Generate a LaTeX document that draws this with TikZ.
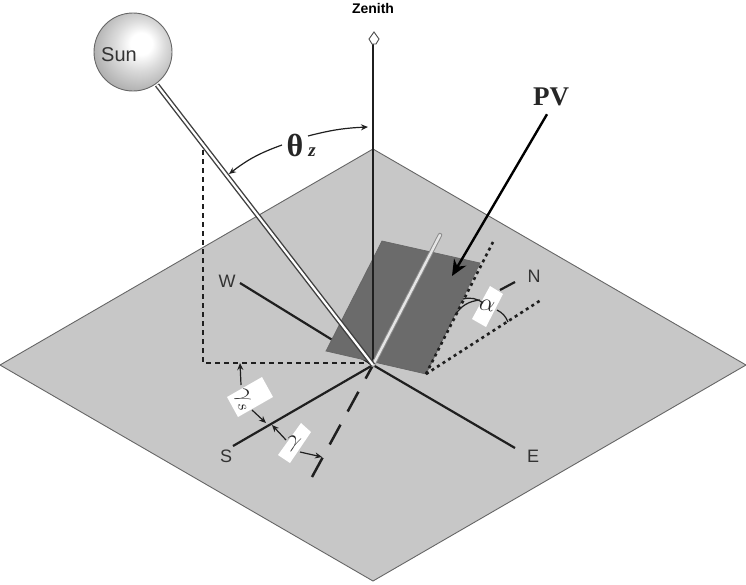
\documentclass[tikz,border=0pt]{standalone}
\usepackage{fontspec}
\setmainfont{Liberation Sans}
\newfontfamily\serifpv{Liberation Serif}
\usetikzlibrary{arrows.meta}
\definecolor{plane}{gray}{0.78}
\definecolor{panel}{gray}{0.42}
\definecolor{ink}{gray}{0.12}
\pgfdeclareradialshading{sunball}{\pgfpoint{6bp}{6bp}}{%
  color(0bp)=(white); color(7bp)=(white); color(16bp)=(black!14); color(28bp)=(black!30); color(40bp)=(black!42); color(60bp)=(black!50)}
\tikzset{
  planeface/.style={fill=plane,draw=black!60,line width=0.9pt},
  axisline/.style={draw=ink,line width=2.2pt},
  dashline/.style={draw=ink,line width=2.3pt,dash pattern=on 5pt off 4pt},
  dotline/.style={draw=ink,line width=2.6pt,dash pattern=on 3pt off 3.6pt},
  longdash/.style={draw=ink,line width=2.5pt,dash pattern=on 22.5pt off 15pt,dash phase=7pt},
  rayouter/.style={draw=black!75,line width=5pt},
  rayinner/.style={draw=white,line width=2.2pt},
  thinarrow/.style={draw=ink,line width=1.2pt,-{Stealth[length=7pt,width=6pt]}},
  thinline/.style={draw=ink,line width=1.2pt},
  textlabel/.style={font=\fontsize{18}{18}\selectfont,text=black!80,inner sep=0pt},
  symbol/.style={inner sep=0pt,text=black!85},
  patch/.style={fill=white,draw=none},
}
\begin{document}
\begin{tikzpicture}[x=1pt,y=-1pt]
\useasboundingbox (0,0) rectangle (746,584);
% named points
\coordinate (O) at (373,365);
\coordinate (Pt) at (373,149); \coordinate (Pr) at (746,365);
\coordinate (Pb) at (373,581); \coordinate (Pl) at (0,365);
\coordinate (Wend) at (240,283); \coordinate (Eend) at (515,448);
\coordinate (Send) at (233,446); \coordinate (Dend) at (312,477);
\coordinate (NstubA) at (500,290); \coordinate (NstubB) at (515,282);
\coordinate (ZenTop) at (373,44);
\coordinate (Normal) at (440,235);
\coordinate (SunFoot) at (157,85);
\coordinate (PanA) at (382,241); \coordinate (PanB) at (480,263);
\coordinate (PanC) at (426,374); \coordinate (PanD) at (326,351);
\coordinate (DotA) at (203,141); \coordinate (DotB) at (203,363); \coordinate (DotC) at (372,363);
\coordinate (EdgeEnd) at (493,242); \coordinate (FlatEnd) at (541,300);
% ground plane
\fill[planeface] (Pt) -- (Pr) -- (Pb) -- (Pl) -- cycle;
% W axis behind the panel
\draw[axisline] (Wend) -- (O);
% panel
\fill[panel,draw=black!60,line width=0.7pt] (PanA) -- (PanB) -- (PanC) -- (PanD) -- cycle;
% zenith
\draw[axisline] (O) -- (ZenTop);
\fill[white,draw=black!70,line width=0.9pt] (374,32) -- (379,39) -- (376,44) -- (372,44) -- (369,39) -- cycle;
% axes
\draw[axisline] (O) -- (Eend);
\draw[axisline] (O) -- (Send);
\draw[axisline] (NstubA) -- (NstubB);
\draw[longdash] (O) -- (Dend);
% dashed projection
\draw[dashline] (DotA) -- (DotB) -- (DotC);
% panel dotted lines
\draw[dotline] (PanC) -- (EdgeEnd);
\draw[dotline] (PanC) -- (FlatEnd);
% normal stick
\draw[draw=black!45,line width=4.4pt,line cap=round] (O) -- (Normal);
\draw[draw=white!90!black,line width=2.4pt,line cap=round] (O) -- (Normal);
% sun ray
\draw[rayouter] (O) -- (SunFoot);
\draw[rayinner] (O) -- (SunFoot);
% sun
\node[circle,minimum size=78pt,inner sep=0pt,draw=black!60,line width=0.9pt,shading=sunball] (Sun) at (133,52) {};
\node[textlabel,font=\fontsize{20}{20}\selectfont] (SunText) at (119,55) {Sun};
% labels
\node[textlabel,font=\fontsize{14}{14}\selectfont\bfseries,text=black] (ZenText) at (373,8) {Zenith};
\node[textlabel] (WText) at (227,281) {W};
\node[textlabel] (NText) at (534,276) {N};
\node[textlabel] (SText) at (226,456) {S};
\node[textlabel] (EText) at (533,456) {E};
\node[symbol,font=\fontsize{27}{27}\selectfont\serifpv\bfseries] (PVlabel) at (551,97) {PV};
\coordinate (PVtip) at (452,276);
\draw[draw=black,line width=2.4pt,-{Stealth[length=16pt,width=14pt]}] (PVlabel.south) ++(-4,8) -- (PVtip);
% theta_z
\node[symbol,font=\fontsize{32}{32}\selectfont\serifpv\bfseries] (ThetaZ) at (295,145) {θ};
\node[symbol,font=\fontsize{19}{19}\selectfont\serifpv\bfseries\itshape] (ThetaSub) at (312,152) {z};
\coordinate (ThetaA) at (229,174); \coordinate (ThetaB) at (368,127);
\coordinate (ThetaAs) at (282,145); \coordinate (ThetaBs) at (308,136);
\draw[thinarrow] (ThetaAs) to[bend right=9] (ThetaA);
\draw[thinarrow] (ThetaBs) to[bend left=6] (ThetaB);
% alpha patch
\fill[patch] (490,286) -- (503,294) -- (486,327) -- (472,319) -- cycle;
\draw[thinline] (463,299) to[bend left=25] (483,303);
\draw[thinline] (455,315) to[bend left=25] (480,300);
\draw[thinline] (497,310) to[bend left=20] (508,322);
\node[symbol,rotate=-10,font=\fontsize{26}{26}\selectfont] (Alpha) at (487,306) {$\alpha$};
% gamma_s patch
\fill[patch] (227,397) -- (262,377) -- (273,397) -- (238,417) -- cycle;
\coordinate (GsTop) at (240,363); \coordinate (GsLow) at (266,423);
\coordinate (GsUpS) at (241,385); \coordinate (GsLowS) at (252,410);
\draw[thinarrow] (GsUpS) -- (GsTop);
\draw[thinarrow] (GsLowS) -- (GsLow);
\node[symbol,rotate=-72,font=\fontsize{24}{24}\selectfont] (GammaS) at (243,400) {$\gamma_{s}$};
% gamma patch
\fill[patch] (301,423) -- (311,432) -- (290,463) -- (278,455) -- cycle;
\coordinate (GaLeft) at (272,425); \coordinate (GaRight) at (322,457);
\coordinate (GaLeftS) at (286,440); \coordinate (GaRightS) at (300,452);
\draw[thinarrow] (GaLeftS) -- (GaLeft);
\draw[thinarrow] (GaRightS) -- (GaRight);
\node[symbol,rotate=-20,font=\fontsize{27}{27}\selectfont] (Gamma) at (293,444) {$\gamma$};
\end{tikzpicture}
\end{document}
